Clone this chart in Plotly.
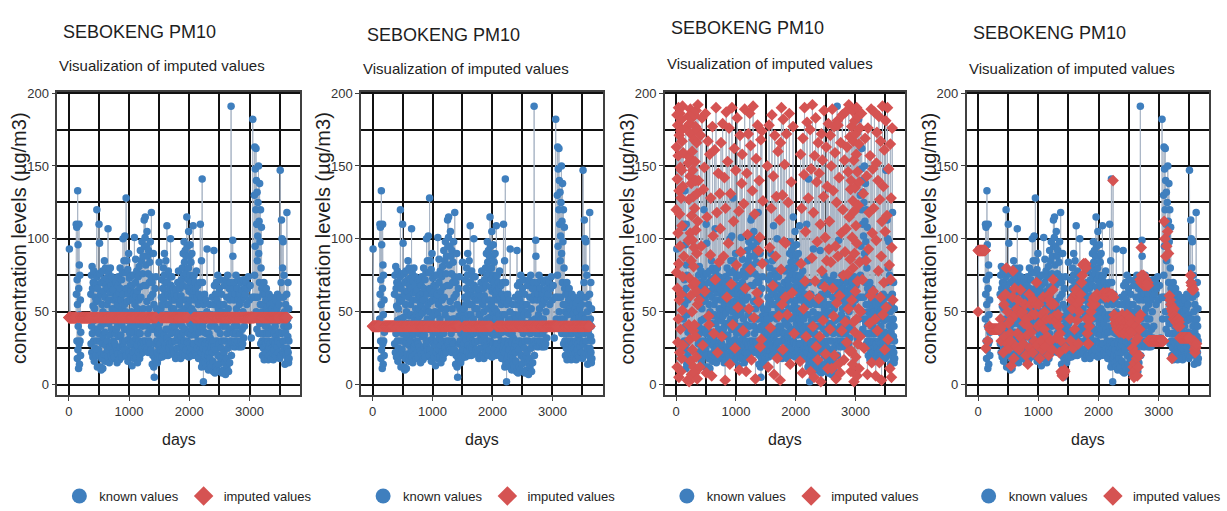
import plotly.graph_objects as go

# Daily PM10 at Sebokeng, one reading every 3 days (about 122 readings per year).
# A missing day is stored as a pair: (random-imputed value, smoothed-imputed value).
DAY_STEP = 3

pm10_y1 = [
    (120, 50), (163, 92), (77, 92), 93, (185, 92), (12, 92), (141, 92), (66, 92), (178, 92), (29, 92),
    (104, 92), (157, 92), (45, 92), (190, 92), (83, 92), (5, 92), (133, 92), (171, 92), (58, 92), (117, 92),
    (22, 92), (186, 92), (95, 92), (149, 92), (38, 92), (174, 92), (9, 92), (128, 92), (62, 92), (182, 92),
    (147, 92), (18, 92), (109, 92), (167, 92), (51, 92), (191, 92), (74, 92), (136, 92), (27, 92), (159, 92),
    45, 110, 62, (88, 25), 108, 30, 72, 18, 55, 133,
    24, 96, 40, (176, 30), 11, 66, 110, 28, 82, 14,
    48, 75, 30, (3, 40), 58, 20, 36, (152, 38), (99, 38), (184, 38),
    (41, 38), (127, 38), (2, 38), (156, 38), (73, 38), (179, 38), (31, 38), (143, 38), (104, 38), (189, 38),
    (16, 38), (61, 38), (172, 38), (85, 38), (138, 38), (7, 38), (116, 38), (183, 38), (50, 38), (160, 38),
    (24, 38), (99, 38), (147, 38), (68, 38), (186, 38), (37, 38), (129, 38), (81, 38), (12, 38), (168, 38),
    (94, 38), (185, 38), (41, 38), (121, 38), (8, 38), (153, 38), (70, 38), (177, 38), (33, 38), (140, 38),
    (106, 38), (188, 38), (19, 38), (64, 38), (166, 38), (90, 38), (131, 38), (4, 38), (175, 38), (55, 38),
    (112, 38), (192, 38)]

pm10_y2 = [
    62, 28, (140, 45), 75, 40, 22, (58, 30), 81, 35, 66,
    (12, 40), 19, 54, 70, (171, 60), 30, 78, 44, (95, 22), 16,
    70, 52, (183, 55), 25, 60, 38, (27, 33), 68, 20, 57,
    (134, 62), 45, 74, 120, 30, (149, 80), 12, 66, (64, 28), 38,
    58, (186, 50), 24, 76, 35, 110, (8, 42), 20, 97, 46,
    (115, 25), 30, 76, 12, 62, (167, 35), 40, 10, 70, (47, 30),
    18, (41, 13), 55, 28, 78, (158, 45), 11, 50, 33, (89, 60),
    64, (128, 78), 21, 72, 42, 85, (6, 18), 36, 60, 16,
    (177, 66), 80, 27, 68, (102, 48), 47, 20, 73, (35, 26), 55,
    30, 66, (161, 52), 24, 48, 107, (72, 35), 19, 77, 42,
    (190, 58), 58, 15, 71, 34, (118, 24), 63, 26, 80, (22, 50),
    46, 20, 68, (145, 65), 38, 74, 28, (84, 32), 52, 18,
    63, (131, 48)]

pm10_y3 = [
    48, 22, (107, 50), 65, 30, 58, (166, 28), 19, 44, 72,
    28, (33, 42), 60, 35, 52, (179, 55), 26, 47, 70, 38,
    (88, 20), 61, 23, 15, 55, (142, 45), 40, 68, 21, (3, 34),
    74, (121, 14), 33, 49, 63, (187, 40), 17, 58, 42, (60, 62),
    80, 26, 66, (153, 25), 34, 58, 21, (97, 55), 72, 41,
    19, (176, 36), 52, 77, 30, (14, 48), 100, 26, 62, (131, 22),
    45, 85, 24, (69, 58), 55, 38, 102, (190, 30), 30, 77,
    50, (41, 48), 20, 128, 66, 24, (112, 55), 85, 38, 57,
    (162, 70), 44, 79, 16, (25, 27), 62, 31, 90, (147, 40), 47,
    22, 73, (82, 55), 35, 58, 28, (183, 18), 68, 40, 19,
    64, (53, 42), 27, 75, 50, (119, 30), 13, 68, (10, 48), 36,
    58, 22, (171, 24), 75, 30, 62, (91, 60), 18, 48, 101,
    40, (138, 38)]

pm10_y4 = [
    55, 24, (158, 50), 70, 86, 32, 61, (37, 26), 19, 45,
    78, (124, 45), 27, 64, 15, 52, (189, 33), 36, 74, 22,
    (66, 61), 58, 30, 81, (9, 20), 41, 18, 67, (145, 58), 35,
    92, 21, (103, 45), 60, 28, 85, (172, 30), 48, 25, 98,
    (52, 55), 40, 76, 22, (186, 24), 88, 52, 30, (79, 65), (164, 72),
    68, 113, 28, 95, (17, 55), 45, 101, 115, 25, (133, 47),
    82, 30, 68, (191, 43), 95, 24, 57, 105, (46, 32), 40,
    88, 35, (117, 45), 76, 22, 92, (4, 48), 52, 30, 70,
    (155, 40), 45, 84, 28, (63, 22), 98, 38, 60, (178, 35), 24,
    74, 118, 45, (92, 30), (57, 9), 70, 14, (140, 8), 62, 20,
    (101, 6), 38, 90, (26, 7), 12, 55, (168, 6), 5, 40, (31, 8),
    18, 66, (174, 10), 28, (83, 9), 47, 74, 16, (126, 25), 52,
    30, 44]

pm10_y5 = [
    22, 40, 15, 35, 48, 20, 30, 44, 18, 38,
    50, 26, 84, 42, 24, 36, 19, 47, 28, 45,
    33, (150, 45), 52, 24, 60, (12, 30), 35, 72, 19, 55,
    (178, 58), 31, 66, 45, (94, 52), 80, 23, 58, (39, 25), 75,
    34, 90, (121, 60), 27, 62, 48, (185, 38), 70, 20, 85,
    38, (68, 62), 55, 25, (143, 65), 109, 32, 70, (7, 44), 48,
    62, 20, (171, 55), 78, 38, 55, 25, (88, 28), 66, 30,
    74, (129, 50), 45, 28, 60, 100, (18, 58), 35, 68, 21,
    (160, 62), 52, 74, 29, 60, (47, 70), 40, 58, 24, (113, 75),
    66, 36, (3, 82), 52, (166, 82), 22, 62, (79, 83), 40, (190, 82),
    30, 58, (55, 81), 18, 48, (130, 82), 65, (24, 83), 36, (182, 80),
    48, 25, 61, (98, 45), 33, 70, 20, (151, 35), 44, 78,
    30, (60, 28)]

pm10_y6 = [
    35, (97, 28), 55, 20, 42, (172, 40), 66, 25, 50, 18,
    (48, 45), 61, 33, 72, 28, (125, 50), 58, 40, 80, 22,
    68, (186, 55), 36, 90, 26, 75, (14, 58), 45, 98, 30,
    84, 52, (139, 60), 20, 92, 38, 76, (63, 55), 58, 24,
    88, 46, (177, 60), 115, 30, 67, 95, 29, (35, 62), 72,
    55, 35, 80, 105, 19, 64, 50, 88, 28, 75,
    42, 96, 22, 58, 70, 34, 84, 46, 25, 66,
    52, 90, 38, 20, 62, 45, 74, 28, 109, 50,
    64, (16, 62), 28, 75, (158, 63), 42, 58, (83, 61), 22, 70,
    (121, 62), 34, 66, 48, (8, 60), 20, 78, (169, 62), 38, 60,
    (52, 61), 25, 45, (144, 63), 68, 30, (190, 62), 55, 18, (71, 60),
    62, 36, (105, 61), 48, 24, (33, 63), 70, 40, 110, 28,
    (180, 62), 58]

pm10_y7 = [
    60, 22, 85, 12, 48, (128, 62), 141, 30, 70, 15,
    40, (61, 62), 25, 2, 55, (175, 140), 18, 36, (9, 60), 62,
    20, (148, 48), 28, 44, 15, (87, 45), 58, 24, (192, 42), 35,
    12, (40, 44), 50, 93, (118, 40), 30, 18, (5, 38), 45, 20,
    (157, 42), 10, 28, (71, 46), 35, 22, (183, 40), 55, 18, (26, 36),
    32, 14, (139, 44), 40, 25, (98, 38), 12, 48, (17, 42), 28,
    (166, 36), 60, 22, (59, 40), 45, 16, (145, 48), 30, 9, (33, 44),
    55, 92, (110, 38), 26, 68, (2, 35), 40, 8, (172, 42), 62,
    24, (78, 46), 48, 12, (154, 40), 70, 30, (44, 36), 58, 10,
    (129, 44), 38, 75, (188, 48), 20, 52, (67, 42), 14, 45, (101, 38),
    28, 66, (21, 34), 9, 55, (163, 40), 35, 72, (85, 44), 18,
    48, (136, 46), 25, 62, (11, 38), 30, 8, (179, 42), 50, 20,
    (93, 36), 40]

pm10_y8 = [
    42, (112, 25), 10, 55, (38, 12), 22, (171, 8), 68, 15, (84, 5),
    48, (150, 15), 30, 7, (11, 22), 72, 40, (189, 10), 18, (66, 30),
    60, 12, (133, 40), 35, (47, 18), 75, 25, (177, 6), 52, (20, 32),
    9, 44, (159, 12), 66, 28, (95, 45), 15, 58, (4, 20), 38,
    70, (125, 38), (56, 72), 30, 191, (181, 48), 20, 62, (88, 70), (178, 94),
    45, (14, 75), 28, 99, 88, (142, 70), 35, 66, (61, 72), 26,
    58, (8, 75), 40, 70, (166, 68), 30, 62, (104, 72), 48, 26,
    (37, 70), 75, 35, (185, 68), 52, 28, (120, 72), 66, 40, (75, 70),
    30, 58, (17, 68), 45, 72, (154, 70), 26, 62, (91, 68), (43, 30),
    55, (187, 30), 35, 26, (107, 30), 62, 45, (29, 30), 70, (163, 30),
    30, 58, (76, 30), 26, 65, (146, 30), 38, (52, 30), 28, (192, 30),
    50, (115, 30), 72, (23, 30), 32, (170, 30), 60, (86, 30), 40, (134, 30),
    66, (9, 30)]

pm10_y9 = [
    (140, 30), 62, (23, 30), (177, 30), (58, 30), 70, (101, 30), (188, 30), (14, 30), 55,
    (126, 30), (80, 30), (167, 30), 66, (43, 30), (154, 30), (2, 30), (119, 30), 74, (90, 30),
    (181, 30), (36, 30), (135, 30), 58, (64, 30), (172, 30), (19, 30), (109, 30), 68, (158, 30),
    (45, 30), (190, 30), (97, 30), (6, 30), 32, (146, 30), (71, 30), (184, 30), (28, 30), 60,
    (123, 30), (52, 30), 182, (165, 30), (11, 30), 45, (139, 30), (84, 30), 60, (176, 30),
    (33, 30), 130, 75, 163, (50, 112), 95, 148, 60, (186, 100), 120,
    162, 50, 140, (72, 88), 110, 38, 132, 85, (131, 95), 102,
    60, 125, 45, (25, 105), 150, 90, 35, 112, (169, 90), 70,
    138, 42, 98, (85, 61), 55, 120, 28, (143, 58), 80, 45,
    108, (7, 55), 66, 30, (176, 52), 50, 20, (93, 18), 62, 35,
    (118, 50), 25, 55, (42, 48), 70, 17, (157, 45), 48, 30, (61, 52),
    62, 22, (189, 47), 40, 58, (15, 45), 28, 66, (104, 43), 35,
    52, (148, 44)]

pm10_y10 = [
    40, (64, 44), 22, 58, (121, 42), 30, 17, 50, (187, 40), 26,
    62, 35, (45, 45), 20, 48, (6, 43), 55, 28, (99, 40), (152, 32),
    18, 44, (173, 32), 60, 25, (37, 32), 38, 52, (140, 32), 22,
    (78, 32), 45, 30, (184, 32), 17, 56, (15, 32), 35, (127, 32), 24,
    50, (60, 32), 28, (167, 32), 40, 20, (88, 32), 58, (3, 32), 33,
    (112, 32), 46, 19, (191, 32), 52, (48, 32), 26, 62, (136, 32), 30,
    44, (70, 32), 22, (161, 32), 55, 36, (24, 32), 48, (105, 32), 18,
    60, (181, 32), 147, 28, (53, 32), 45, 20, 70, (116, 75), 113,
    35, (190, 70), 100, 45, (31, 68), 80, 22, (148, 65), 98, 30,
    60, (82, 66), 40, 75, (11, 65), 25, 50, (165, 30), 14, (72, 28),
    36, (128, 24), 55, (5, 22), 20, (94, 25), 42, (176, 26), 62, 118,
    25, (58, 28), 16, 45, 33, 70, 22, 40, 15, 52,
    30, 18]

# Single-value fills used by the mean and median imputations
MEAN_FILL = 46
MEDIAN_FILL = 40

X_TICKS = [0, 1000, 2000, 3000]
X_MINOR = [500, 1500, 2500, 3500]
Y_TICKS = [0, 50, 100, 150, 200]
Y_MINOR = [25, 75, 125, 175]

TITLE = "SEBOKENG PM10"
SUBTITLE = "Visualization of imputed values"
X_TITLE = "days"
Y_TITLE = "concentration levels (µg/m3)"
LEGEND_LABELS = ["known values", "imputed values"]

# ---------------------------------------------------------------------------
readings = [v for block in (pm10_y1, pm10_y2, pm10_y3, pm10_y4, pm10_y5,
                            pm10_y6, pm10_y7, pm10_y8, pm10_y9, pm10_y10) for v in block]
days = [i * DAY_STEP for i in range(len(readings))]

known_x, known_y = [], []
miss_idx = []
for i, v in enumerate(readings):
    if isinstance(v, tuple):
        miss_idx.append(i)
    else:
        known_x.append(days[i])
        known_y.append(v)
miss_x = [days[i] for i in miss_idx]
random_fill = [readings[i][0] for i in miss_idx]
smooth_fill = [readings[i][1] for i in miss_idx]

fills = [
    [MEAN_FILL] * len(miss_idx),
    [MEDIAN_FILL] * len(miss_idx),
    random_fill,
    smooth_fill,
]

W, H = 1227, 511
PANEL_PX = [(58, 303), (365, 609), (672, 915), (977, 1222)]
PLOT_TOP, PLOT_BOTTOM = 87, 395
TITLE_Y = [26, 29, 22, 27]
SUB_Y = [60, 63, 58, 63]

BLUE = "#3f7fbe"
RED = "#d55352"
LINE = "#aab6c6"
GRID = "#111111"
FONT = "Liberation Sans, Arial, sans-serif"
INK = "#1e1e1e"


def px_x(p):
    return p / W


def px_y(p):
    return 1 - p / H


fig = go.Figure()
annotations = []
legend_names = ["legend", "legend2", "legend3", "legend4"]

for k, (left, right) in enumerate(PANEL_PX):
    ax = "" if k == 0 else str(k + 1)
    xref, yref = "x" + ax, "y" + ax
    fill = fills[k]

    # complete series (known + imputed) joined by a thin line
    merged = {d: v for d, v in zip(known_x, known_y)}
    merged.update({d: v for d, v in zip(miss_x, fill)})
    line_x = sorted(merged)
    line_y = [merged[d] for d in line_x]

    fig.add_trace(go.Scatter(x=line_x, y=line_y, mode="lines",
                             line=dict(color=LINE, width=1),
                             hoverinfo="skip", showlegend=False,
                             xaxis=xref, yaxis=yref))
    fig.add_trace(go.Scatter(x=known_x, y=known_y, mode="markers",
                             marker=dict(color=BLUE, size=7.5, symbol="circle"),
                             showlegend=False, xaxis=xref, yaxis=yref))
    fig.add_trace(go.Scatter(x=miss_x, y=fill, mode="markers",
                             marker=dict(color=RED, size=9, symbol="diamond"),
                             showlegend=False, xaxis=xref, yaxis=yref))
    # legend entries
    fig.add_trace(go.Scatter(x=[None], y=[None], mode="markers", name=LEGEND_LABELS[0],
                             marker=dict(color=BLUE, size=15, symbol="circle"),
                             legend=legend_names[k], xaxis=xref, yaxis=yref))
    fig.add_trace(go.Scatter(x=[None], y=[None], mode="markers", name=LEGEND_LABELS[1],
                             marker=dict(color=RED, size=15, symbol="diamond"),
                             legend=legend_names[k], xaxis=xref, yaxis=yref))

    axis_common = dict(
        showline=True, mirror=True, linecolor="#404040", linewidth=1.5,
        showgrid=True, gridcolor=GRID, gridwidth=1.6,
        ticks="outside", ticklen=4, tickcolor="#404040", tickwidth=1,
        tickfont=dict(family=FONT, size=13, color="#333333"),
        zeroline=False,
    )
    fig.update_layout(**{
        "xaxis" + ax: dict(
            axis_common, domain=[px_x(left), px_x(right)], range=[-190, 3835],
            tickmode="array", tickvals=X_TICKS,
            minor=dict(tickmode="array", tickvals=X_MINOR, showgrid=True,
                       gridcolor=GRID, gridwidth=1.6, ticks=""),
            anchor=yref,
        ),
        "yaxis" + ax: dict(
            axis_common, domain=[px_y(PLOT_BOTTOM), px_y(PLOT_TOP)], range=[-7, 201],
            tickmode="array", tickvals=Y_TICKS,
            minor=dict(tickmode="array", tickvals=Y_MINOR, showgrid=True,
                       gridcolor=GRID, gridwidth=1.6, ticks=""),
            anchor=xref,
        ),
        legend_names[k]: dict(
            orientation="h", x=px_x(left + 2), xanchor="left",
            y=px_y(498), yanchor="middle", bgcolor="rgba(0,0,0,0)",
            font=dict(family=FONT, size=13, color=INK),
            itemclick=False, itemdoubleclick=False,
        ),
    })

    annotations += [
        dict(text=TITLE, x=px_x(left + 4), y=px_y(TITLE_Y[k]), xref="paper", yref="paper",
             xanchor="left", yanchor="middle", showarrow=False,
             font=dict(family=FONT, size=18, color=INK)),
        dict(text=SUBTITLE, x=px_x(left), y=px_y(SUB_Y[k]), xref="paper", yref="paper",
             xanchor="left", yanchor="middle", showarrow=False,
             font=dict(family=FONT, size=15, color=INK)),
        dict(text=X_TITLE, x=px_x((left + right) / 2), y=px_y(440), xref="paper", yref="paper",
             xanchor="center", yanchor="middle", showarrow=False,
             font=dict(family=FONT, size=16, color=INK)),
        dict(text=Y_TITLE, x=px_x(left - 38), y=px_y((PLOT_TOP + PLOT_BOTTOM) / 2 - 5),
             xref="paper", yref="paper", textangle=-90,
             xanchor="center", yanchor="middle", showarrow=False,
             font=dict(family=FONT, size=20, color=INK)),
    ]

fig.update_layout(
    width=W, height=H,
    margin=dict(l=0, r=0, t=0, b=0),
    paper_bgcolor="white", plot_bgcolor="white",
    annotations=annotations,
    hovermode=False,
)

fig.write_html("out.html", config={"displayModeBar": False})
